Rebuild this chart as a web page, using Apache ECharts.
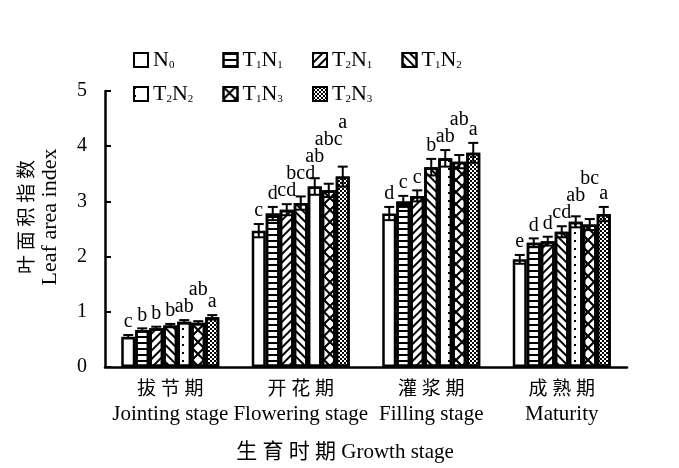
<!DOCTYPE html>
<html>
<head>
<meta charset="utf-8">
<script src="https://cdn.jsdelivr.net/npm/echarts@6/dist/echarts.min.js"></script>
<style>
  html, body { margin: 0; padding: 0; background: #fff; }
  #chart { width: 679px; height: 468px; }
</style>
</head>
<body>
<div id="chart"></div>
<script>
'use strict';

// growth stages
let stages = ['拔 节 期\nJointing stage', '开 花 期\nFlowering stage', '灌 浆 期\nFilling stage', '成 熟 期\nMaturity'];
let treatments = ['N0', 'T1N1', 'T2N1', 'T1N2', 'T2N2', 'T1N3', 'T2N3'];

// leaf area index per treatment, one value per stage
let N0   = [0.55, 2.47, 2.78, 1.95];
let T1N1 = [0.67, 2.78, 3.00, 2.25];
let T2N1 = [0.70, 2.85, 3.10, 2.28];
let T1N2 = [0.75, 2.97, 3.62, 2.45];
let T2N2 = [0.82, 3.27, 3.78, 2.63];
let T1N3 = [0.80, 3.20, 3.72, 2.58];
let T2N3 = [0.90, 3.45, 3.88, 2.77];

// standard errors
let errN0   = [0.03, 0.12, 0.12, 0.08];
let errT1N1 = [0.03, 0.12, 0.10, 0.08];
let errT2N1 = [0.03, 0.10, 0.10, 0.08];
let errT1N2 = [0.03, 0.12, 0.15, 0.10];
let errT2N2 = [0.03, 0.15, 0.15, 0.10];
let errT1N3 = [0.03, 0.12, 0.12, 0.10];
let errT2N3 = [0.04, 0.18, 0.18, 0.13];

// significance letters
let sigN0   = ['c', 'c', 'd', 'e'];
let sigT1N1 = ['b', 'd', 'c', 'd'];
let sigT2N1 = ['b', 'cd', 'c', 'd'];
let sigT1N2 = ['b', 'bcd', 'b', 'cd'];
let sigT2N2 = ['ab', 'ab', 'ab', 'ab'];
let sigT1N3 = ['ab', 'abc', 'ab', 'bc'];
let sigT2N3 = ['a', 'a', 'a', 'a'];

let yTicks = [0, 1, 2, 3, 4, 5];

let values = [N0, T1N1, T2N1, T1N2, T2N2, T1N3, T2N3];
let errors = [errN0, errT1N1, errT2N1, errT1N2, errT2N2, errT1N3, errT2N3];
let sigs = [sigN0, sigT1N1, sigT2N1, sigT1N2, sigT2N2, sigT1N3, sigT2N3];

const FONT = "'Liberation Serif', 'Noto Sans CJK SC', serif";
const BAR_W = 14;
const CHAR_W = 10;    // rough width of one letter at 20px
const LABEL_H = 18;

let decals = [
    null,
    { symbol: 'rect', symbolSize: 1, color: '#000', dashArrayX: [1, 0], dashArrayY: [2, 4], rotation: 0 },
    { symbol: 'rect', symbolSize: 1, color: '#000', dashArrayX: [1, 0], dashArrayY: [1.5, 3.5], rotation: -Math.PI / 4 },
    { symbol: 'rect', symbolSize: 1, color: '#000', dashArrayX: [1, 0], dashArrayY: [1.5, 3.5], rotation: Math.PI / 4 },
    { symbol: 'rect', symbolSize: 1, color: '#000', dashArrayX: [2, 12], dashArrayY: [2, 6], rotation: 0 },
    { symbol: 'path://M0,0L1.5,0L12,10.5L12,12L10.5,12L0,1.5ZM10.5,0L12,0L12,1.5L1.5,12L0,12L0,10.5Z', symbolSize: 1, color: '#000',
      dashArrayX: [12, 0], dashArrayY: [12, 0], rotation: 0 },
    { symbol: 'rect', symbolSize: 1, color: '#000', dashArrayX: [[2, 2], [0, 2, 2, 0]], dashArrayY: [2, 0], rotation: 0 }
];

let subName = function(name){
    // N0 -> N{sub 0}, T1N2 -> T{sub 1}N{sub 2}
    return name.replace(/([A-Z])(\d)/g, '{n|$1}{s|$2}');
};

// chinese line a bit smaller than the english one
let twoLines = function(text){
    let parts = text.split('\n');
    return '{c|' + parts[0] + '}\n{e|' + parts[1] + '}';
};

let barSeries = treatments.map(function(name, i){
    let style = { color: '#fff', borderColor: '#000', borderWidth: 2.5 };
    if (decals[i]) style.decal = decals[i];
    return {
        name: name,
        type: 'bar',
        barWidth: BAR_W,
        barGap: '0%',
        data: values[i],
        itemStyle: style,
        emphasis: { disabled: true }
    };
});

let errData = [];
treatments.forEach(function(name, i){
    stages.forEach(function(s, j){
        errData.push([j, i, values[i][j], errors[i][j]]);
    });
});

// bottom y of the letter above bar t in group cat; raised when it would hit the previous one
let labelBottom = function(api, cat, t){
    let x = api.coord([cat, 0])[0] + (t - 3) * BAR_W;
    let y = api.coord([cat, values[t][cat] + errors[t][cat]])[1] - 3;
    if (t > 0) {
        let prev = labelBottom(api, cat, t - 1);
        let halfW = sigs[t][cat].length * CHAR_W / 2;
        let prevHalfW = sigs[t - 1][cat].length * CHAR_W / 2;
        let overlapX = (x - halfW) < (prev.x + prevHalfW) - 1;
        let overlapY = y > prev.y - LABEL_H && y - LABEL_H < prev.y;
        if (overlapX && overlapY) y = prev.y - LABEL_H + 1;
    }
    return { x: x, y: y };
};

let errSeries = {
    type: 'custom',
    z: 5,
    silent: true,
    data: errData,
    encode: { x: 0, y: 2 },
    renderItem: function(params, api){
        let cat = api.value(0), t = api.value(1), v = api.value(2), e = api.value(3);
        let x = api.coord([cat, v])[0] + (t - 3) * BAR_W;
        let top = api.coord([cat, v + e])[1];
        let bot = api.coord([cat, v - e])[1];
        let lab = labelBottom(api, cat, t);
        let ls = { stroke: '#000', lineWidth: 2 };
        return {
            type: 'group',
            children: [
                { type: 'line', shape: { x1: x, y1: top, x2: x, y2: bot }, style: ls },
                { type: 'line', shape: { x1: x - 5, y1: top, x2: x + 5, y2: top }, style: ls },
                { type: 'line', shape: { x1: x - 5, y1: bot, x2: x + 5, y2: bot }, style: ls },
                { type: 'text', x: lab.x, y: lab.y,
                  style: { text: sigs[t][cat], align: 'center', verticalAlign: 'bottom',
                           font: '20px ' + FONT, fill: '#000' } }
            ]
        };
    }
};

// one legend per item so they sit on the reference's fixed columns
let legends = treatments.map(function(name, i){
    let row = i < 4 ? 0 : 1;
    let col = i < 4 ? i : i - 4;
    return {
        left: 128 + col * 89.5,
        top: 44 + row * 34,
        data: [name],
        itemWidth: 14,
        itemHeight: 14,
        itemGap: 4,
        icon: 'rect',
        selectedMode: false,
        formatter: subName,
        textStyle: {
            rich: {
                n: { fontFamily: FONT, fontSize: 22, color: '#000' },
                s: { fontFamily: FONT, fontSize: 11, color: '#000', verticalAlign: 'bottom', padding: [9, 0, 0, 0] }
            }
        }
    };
});

let myChart = echarts.init(document.getElementById('chart'));
let option = {
    backgroundColor: '#fff',
    animation: false,
    textStyle: { fontFamily: FONT, color: '#000' },
    legend: legends,
    grid: { left: 105, right: 52, top: 91, bottom: 101, outerBoundsMode: 'none' },
    xAxis: {
        type: 'category',
        data: stages,
        axisLine: { lineStyle: { color: '#000', width: 2.5 } },
        axisTick: { inside: true, length: 4, lineStyle: { color: '#000', width: 2 } },
        axisLabel: {
            interval: 0, margin: 11, color: '#000',
            formatter: twoLines,
            rich: {
                c: { fontFamily: FONT, fontSize: 19, lineHeight: 24, color: '#000' },
                e: { fontFamily: FONT, fontSize: 21, lineHeight: 24, color: '#000' }
            }
        },
        name: '生 育 时 期 Growth stage',
        nameLocation: 'middle',
        nameGap: 75,
        nameTextStyle: { fontFamily: FONT, fontSize: 21, color: '#000', padding: [0, 42, 0, 0] }
    },
    yAxis: {
        type: 'value',
        min: yTicks[0],
        max: yTicks[yTicks.length - 1],
        interval: 1,
        splitLine: { show: false },
        axisLine: { show: true, lineStyle: { color: '#000', width: 2.5 } },
        axisTick: { show: true, inside: true, length: 6, lineStyle: { color: '#000', width: 2 } },
        axisLabel: { fontFamily: FONT, fontSize: 20, color: '#000', margin: 18 },
        name: twoLines('叶 面 积 指 数\nLeaf area index'),
        nameLocation: 'middle',
        nameRotate: 90,
        nameGap: 44,
        nameTextStyle: {
            color: '#000', padding: [0, 0, 0, 24],
            rich: {
                c: { fontFamily: FONT, fontSize: 19, lineHeight: 22, color: '#000' },
                e: { fontFamily: FONT, fontSize: 22, lineHeight: 22, color: '#000' }
            }
        }
    },
    series: barSeries.concat([errSeries])
};
myChart.setOption(option);
</script>
</body>
</html>
